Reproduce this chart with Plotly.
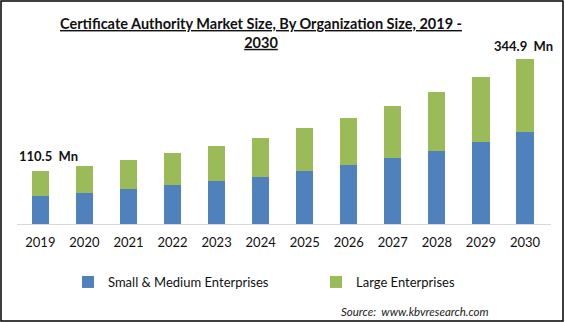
import plotly.graph_objects as go

# Market size by organization size (USD Mn)
years = ["2019", "2020", "2021", "2022", "2023", "2024",
         "2025", "2026", "2027", "2028", "2029", "2030"]
small_medium = [59.0, 65.0, 73.0, 82.0, 90.0, 98.0,
                111.0, 124.0, 138.0, 153.0, 172.0, 192.5]
large = [51.5, 57.0, 61.0, 67.0, 73.0, 82.0,
         90.0, 98.0, 109.0, 123.0, 136.0, 152.4]
totals = [round(a + b, 1) for a, b in zip(small_medium, large)]

BLUE = "#4F81BD"
GREEN = "#9BBB59"
FONT = "Lato"

W, H = 565, 322
ML, MR, MT, MB = 17, 14, 40, 98
PW, PH = W - ML - MR, H - MT - MB

fig = go.Figure()
fig.add_trace(go.Bar(x=years, y=small_medium, name="Small & Medium Enterprises",
                     marker=dict(color=BLUE, line=dict(width=0)), legend="legend"))
fig.add_trace(go.Bar(x=years, y=large, name="Large Enterprises",
                     marker=dict(color=GREEN, line=dict(width=0)), legend="legend2"))

# Value labels on first and last year (x given as category index)
for i in (0, len(years) - 1):
    fig.add_annotation(x=i, y=totals[i], text=f"<b>{totals[i]}  Mn</b>",
                       showarrow=False, yanchor="bottom",
                       xshift=8 if i == 0 else -2, yshift=5 if i == 0 else 3,
                       font=dict(family=FONT, size=13, color="#111111"))

# Source note
fig.add_annotation(xref="paper", yref="paper", x=(339 - ML) / PW, y=-(311 - MT - PH) / PH,
                   xanchor="left", yanchor="middle", showarrow=False,
                   text="<i>Source:  www.kbvresearch.com</i>",
                   font=dict(family=FONT, size=11.5, color="#222222"))

# Outer frame
fig.add_shape(type="rect", xref="paper", yref="paper",
              x0=-(ML - 1) / PW, x1=1 + (MR - 2) / PW,
              y0=-(MB - 1) / PH, y1=1 + (MT - 1) / PH,
              line=dict(color="black", width=1.5), fillcolor="rgba(0,0,0,0)")

legend_common = dict(orientation="h", xanchor="left", yanchor="middle",
                     y=-(282 - MT - PH) / PH, bgcolor="rgba(0,0,0,0)",
                     font=dict(family=FONT, size=13, color="#111111"))

fig.update_layout(
    width=W, height=H,
    margin=dict(l=ML, r=MR, t=MT, b=MB),
    paper_bgcolor="white", plot_bgcolor="white",
    barmode="stack", bargap=0.61,
    title=dict(text="<b><u>Certificate Authority Market Size, By Organization Size, 2019 -</u></b>"
                    "<br><b><u>2030</u></b>",
               x=261 / W, xanchor="center", y=0.91, yanchor="top",
               font=dict(family=FONT, size=14.5, color="#111111")),
    xaxis=dict(type="category", range=[-0.53, 11.59], showgrid=False, zeroline=False,
               showline=True, linecolor="#D9D9D9", linewidth=1,
               ticks="outside", ticklen=6, tickcolor="rgba(0,0,0,0)",
               tickfont=dict(family=FONT, size=13, color="#111111")),
    yaxis=dict(range=[0, 385], visible=False),
    legend=dict(x=(68 - ML) / PW, **legend_common),
    legend2=dict(x=(316 - ML) / PW, **legend_common),
    showlegend=True,
)

fig.write_html("out.html")
